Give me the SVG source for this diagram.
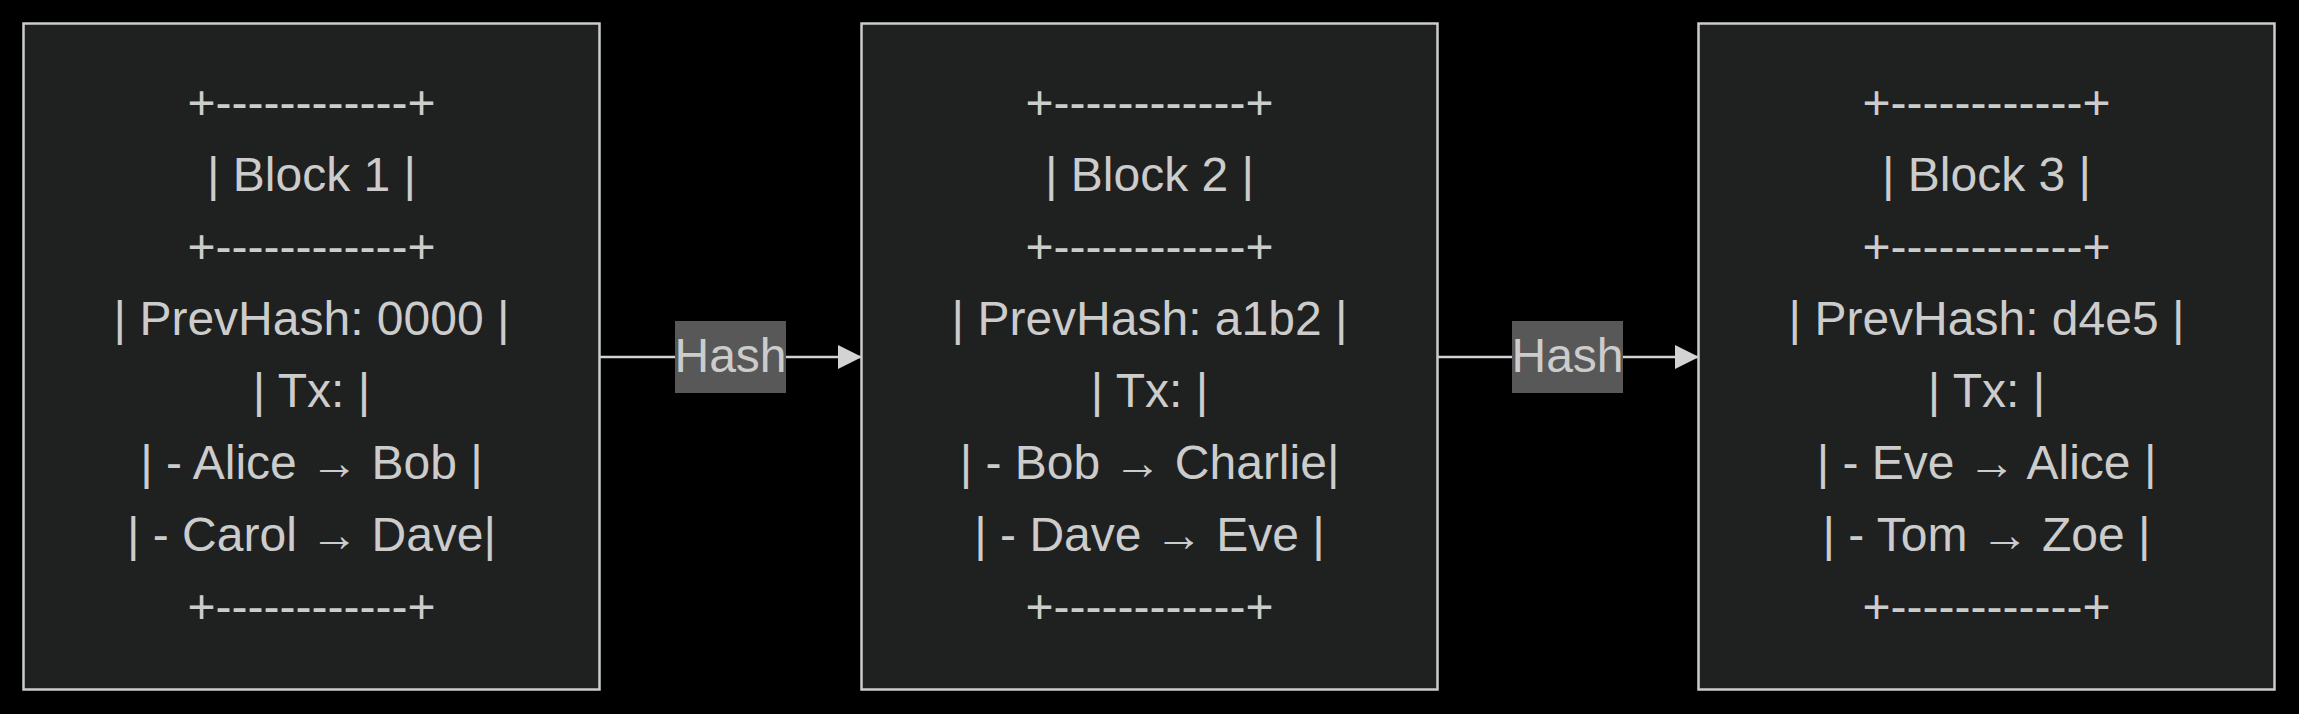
<svg xmlns="http://www.w3.org/2000/svg" width="2299" height="714" viewBox="0 0 2299 714">
<style>
.node rect{fill:#1f2020;stroke:#cccccc;stroke-width:2.5}
.node text{fill:#cccccc;font-family:"Liberation Sans",Arial,sans-serif;font-size:48px;text-anchor:middle}
.edge line{stroke:#d3d3d3;stroke-width:2.5;fill:none}
.elabel rect{fill:#585858}
.elabel text{fill:#cccccc;font-family:"Liberation Sans",Arial,sans-serif;font-size:48px;text-anchor:middle}
</style>
<defs>
<marker id="arrow" markerWidth="24" markerHeight="24" refX="24" refY="12" orient="auto" markerUnits="userSpaceOnUse">
<path d="M0,0 L24,12 L0,24 Z" fill="#d3d3d3"/>
</marker>
</defs>
<rect x="0" y="0" width="2299" height="714" fill="#000000"/>
<g id="connectors">
<g class="edge"><line x1="600" y1="357" x2="862" y2="357" marker-end="url(#arrow)"/></g>
<g class="edge"><line x1="1437" y1="357" x2="1699" y2="357" marker-end="url(#arrow)"/></g>
<g class="elabel"><rect x="675" y="321" width="111" height="72"/><text x="730.5" y="372">Hash</text></g>
<g class="elabel"><rect x="1512" y="321" width="111" height="72"/><text x="1567.5" y="372">Hash</text></g>
</g>
<g id="block1" class="node">
<rect x="23.5" y="23.5" width="576" height="666"/>
<text x="311.5" y="118.5">+------------+</text>
<text x="311.5" y="190.5">| Block 1 |</text>
<text x="311.5" y="262.5">+------------+</text>
<text x="311.5" y="334.5">| PrevHash: 0000 |</text>
<text x="311.5" y="406.5">| Tx: |</text>
<text x="311.5" y="478.5">| - Alice → Bob |</text>
<text x="311.5" y="550.5">| - Carol → Dave|</text>
<text x="311.5" y="622.5">+------------+</text>
</g>
<g id="block2" class="node">
<rect x="861.5" y="23.5" width="576" height="666"/>
<text x="1149.5" y="118.5">+------------+</text>
<text x="1149.5" y="190.5">| Block 2 |</text>
<text x="1149.5" y="262.5">+------------+</text>
<text x="1149.5" y="334.5">| PrevHash: a1b2 |</text>
<text x="1149.5" y="406.5">| Tx: |</text>
<text x="1149.5" y="478.5">| - Bob → Charlie|</text>
<text x="1149.5" y="550.5">| - Dave → Eve |</text>
<text x="1149.5" y="622.5">+------------+</text>
</g>
<g id="block3" class="node">
<rect x="1698.5" y="23.5" width="576" height="666"/>
<text x="1986.5" y="118.5">+------------+</text>
<text x="1986.5" y="190.5">| Block 3 |</text>
<text x="1986.5" y="262.5">+------------+</text>
<text x="1986.5" y="334.5">| PrevHash: d4e5 |</text>
<text x="1986.5" y="406.5">| Tx: |</text>
<text x="1986.5" y="478.5">| - Eve → Alice |</text>
<text x="1986.5" y="550.5">| - Tom → Zoe |</text>
<text x="1986.5" y="622.5">+------------+</text>
</g>
</svg>
